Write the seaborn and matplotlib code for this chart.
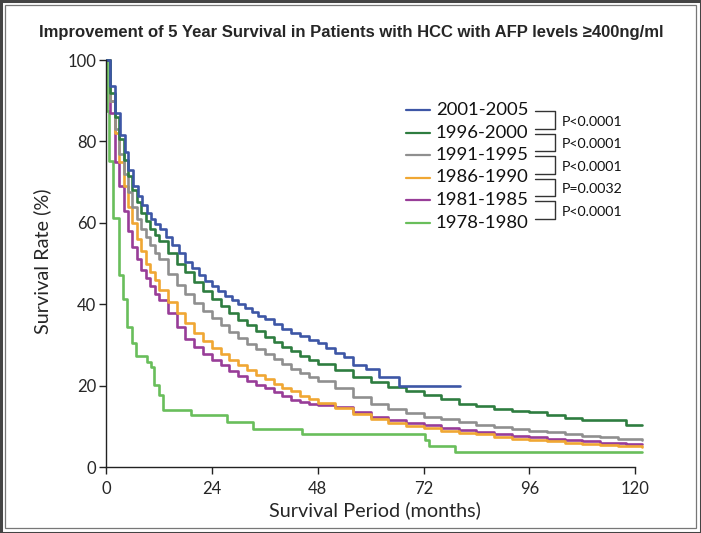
import matplotlib
matplotlib.use("Agg")
import matplotlib.pyplot as plt
from matplotlib.patches import Rectangle
from matplotlib.lines import Line2D
import seaborn as sns
import pandas as pd

# ---------------- data ----------------
periods = ["2001-2005", "1996-2000", "1991-1995", "1986-1990", "1981-1985", "1978-1980"]
colors = ["#3D56A6", "#2E7D40", "#8F8F8F", "#F0A733", "#983D98", "#69BE5B"]
p_values = ["P<0.0001", "P<0.0001", "P<0.0001", "P=0.0032", "P<0.0001"]

t_2001 = [0, 0.9, 2.0, 3.2, 4.3, 5.1, 6.2, 7.2, 8.2, 9.2, 10.2, 11.2, 12.2, 13.5, 15, 16.5, 18,
          19.5, 21, 22.5, 24, 25.5, 27, 28.5, 30, 31.5, 33, 34.5, 36, 38, 40, 42, 44, 46, 48,
          50, 52, 54, 56, 59, 62, 66.4, 80.3]
s_2001 = [100, 93.7, 87, 81.6, 77.5, 73, 69, 66.5, 64.5, 62.5, 61, 59.8, 58.5, 56.5, 54.5, 52.5, 50.5,
          48.8, 47.2, 45.8, 44.5, 43.3, 42, 41, 40, 39, 38, 37.2, 36.4, 35.2, 34, 33, 32.2, 31.3, 30.4,
          29.2, 28, 27, 25, 24, 22, 20, 20]

t_common = [0, 1, 2, 3, 4, 5, 6, 7, 8, 9, 10, 11, 12, 14, 16, 18, 20, 22, 24, 26, 28, 30, 32, 34,
            36, 38, 40, 42, 44, 46, 48, 52, 56, 60, 64, 68, 72, 76, 80, 84, 88, 92, 96, 100, 104,
            108, 112, 116, 118, 121.5]
s_1996 = [100, 92, 86, 80.5, 75.5, 71.5, 68, 65, 62.5, 60.5, 58.5, 57, 55.5, 52.5, 50, 47.8, 45.5,
          43.3, 41.3, 39.5, 37.8, 36.2, 34.8, 33.3, 32, 30.8, 29.6, 28.4, 27.3, 26.3, 25.4, 23.8,
          22.2, 20.8, 19.6, 18.6, 17.7, 16.7, 15.5, 15.0, 14.3, 13.8, 13.4, 12.8, 12.1, 11.6, 11.5,
          11.5, 10.2, 10.2]
s_1991 = [100, 90, 83, 77, 72, 67.5, 64, 61, 58.5, 56.5, 54.5, 52.5, 51, 47.5, 44.8, 42.5, 40.3,
          38.3, 36.5, 34.8, 33.2, 31.7, 30.3, 29, 27.7, 26.5, 25.3, 24.2, 23.2, 22.2, 21.2, 19.5,
          17.2, 15.6, 14.2, 13.2, 12.4, 11.7, 11.1, 10.3, 9.8, 9.3, 8.9, 8.5, 8.0, 7.6, 7.3, 7.0,
          6.8, 6.6]
s_1986 = [100, 90, 82, 75, 69, 64, 60, 56, 53, 50, 48, 46, 43.5, 40.5, 37.8, 35.3, 33, 31, 29.3,
          27.8, 26.3, 25, 23.8, 22.7, 21.6, 20.5, 19.5, 18.6, 17.5, 16.6, 15.8, 14.5, 13, 11.8,
          10.8, 10.1, 9.5, 8.9, 8.3, 8.0, 7.3, 7.0, 6.7, 6.3, 6.0, 5.7, 5.4, 5.2, 5.1, 5.0]
s_1981 = [100, 87, 75, 69, 63, 58, 54, 51, 48.5, 46.5, 44.5, 42.5, 41, 37.8, 34.5, 31.5, 29.5,
          27.8, 26.3, 25, 23.5, 22.3, 21.2, 20.2, 19.4, 18.5, 17.5, 16.5, 16, 15.6, 15.2, 14.7,
          13.6, 12.3, 11.5, 10.9, 10.3, 9.7, 9.1, 8.7, 8.0, 7.6, 7.3, 6.9, 6.6, 6.3, 6.0, 5.8,
          5.7, 5.7]

t_1978 = [0, 0.3, 0.75, 1.66, 3.0, 3.9, 4.8, 5.8, 6.8, 9.2, 10.3, 10.9, 12.1, 13, 19.2, 27.4,
          33.4, 44.4, 72.3, 73.3, 79.1, 121.5]
s_1978 = [100, 87.5, 75.2, 61.1, 47.2, 41.4, 34.5, 30.4, 27.3, 25.9, 24.6, 20.1, 17.7, 14.0, 12.8,
          11.1, 9.3, 8.0, 6.6, 5.2, 3.8, 3.8]

x_ticks = [0, 24, 48, 72, 96, 120]
y_ticks = [0, 20, 40, 60, 80, 100]

series = {
    "2001-2005": (t_2001, s_2001),
    "1996-2000": (t_common, s_1996),
    "1991-1995": (t_common, s_1991),
    "1986-1990": (t_common, s_1986),
    "1981-1985": (t_common, s_1981),
    "1978-1980": (t_1978, s_1978),
}
rows = []
for name, (tt, ss) in series.items():
    for a, b in zip(tt, ss):
        rows.append({"time": a, "survival": b, "period": name})
df = pd.DataFrame(rows)

# ---------------- plot ----------------
sns.set_style("ticks")
plt.rcParams["font.family"] = ["Lato", "DejaVu Sans"]

W, H = 701, 533
fig = plt.figure(figsize=(W / 100, H / 100), dpi=100)
ax = fig.add_axes([106 / W, 1 - 467 / H, (644 - 106) / W, (467 - 56) / H])

sns.lineplot(data=df, x="time", y="survival", hue="period", hue_order=periods[::-1],
             palette=dict(zip(periods, colors)), drawstyle="steps-post", estimator=None,
             sort=False, units="period", legend=False, linewidth=1.9, ax=ax)

ax.set_xlim(0, 122)
ax.set_ylim(0, 101)
ax.set_xticks(x_ticks)
ax.set_yticks(y_ticks)
ax.spines["bottom"].set_bounds(0, 120)
ax.spines["left"].set_bounds(0, 100)
for s in ["top", "right"]:
    ax.spines[s].set_visible(False)
for s in ["left", "bottom"]:
    ax.spines[s].set_color("#222222")
    ax.spines[s].set_linewidth(1.0)
ax.tick_params(axis="both", labelsize=12, length=5, width=1.0, color="#222222")
ax.tick_params(axis="x", pad=5)
ax.tick_params(axis="y", pad=2)
ax.set_xlabel("Survival Period (months)", fontsize=14.3, labelpad=3)
ax.set_ylabel("Survival Rate (%)", fontsize=14.3, labelpad=12)

# title
fig.text(351 / W, 1 - 32 / H, "Improvement of 5 Year Survival in Patients with HCC with AFP levels \u2265400ng/ml",
         ha="center", va="center", fontsize=12.0, fontweight="bold",
         family=["Liberation Sans", "DejaVu Sans"])

# legend with brackets (figure pixel coordinates)
def fx(px):
    return px / W

def fy(py):
    return 1 - py / H

row_y = [110, 132.5, 155, 177.5, 200, 222.5]
for i, (name, c) in enumerate(zip(periods, colors)):
    fig.add_artist(Line2D([fx(406), fx(430)], [fy(row_y[i]), fy(row_y[i])], color=c, lw=1.6))
    fig.text(fx(436), fy(row_y[i]), name, ha="left", va="center", fontsize=13.3, color="#111111")

bx0, bx1 = 535, 555
for i, p in enumerate(p_values):
    ya = row_y[i] + 1
    yb = row_y[i + 1] - 4
    fig.add_artist(Line2D([fx(bx0), fx(bx1), fx(bx1), fx(bx0)],
                          [fy(ya), fy(ya), fy(yb), fy(yb)], color="#333333", lw=1.0))
    fig.text(fx(562), fy((ya + yb) / 2 + 2), p, ha="left", va="center", fontsize=10.2, color="#111111")

# frame around the figure
fig.add_artist(Rectangle((0.5 / W, 0.5 / H), (W - 1) / W, (H - 1) / H, transform=fig.transFigure,
                         fill=False, edgecolor="#444444", lw=2.2))
fig.add_artist(Rectangle((5 / W, 5 / H), (W - 10) / W, (H - 10) / H, transform=fig.transFigure,
                         fill=False, edgecolor="#777777", lw=0.9))

fig.savefig("out.png", dpi=100)
